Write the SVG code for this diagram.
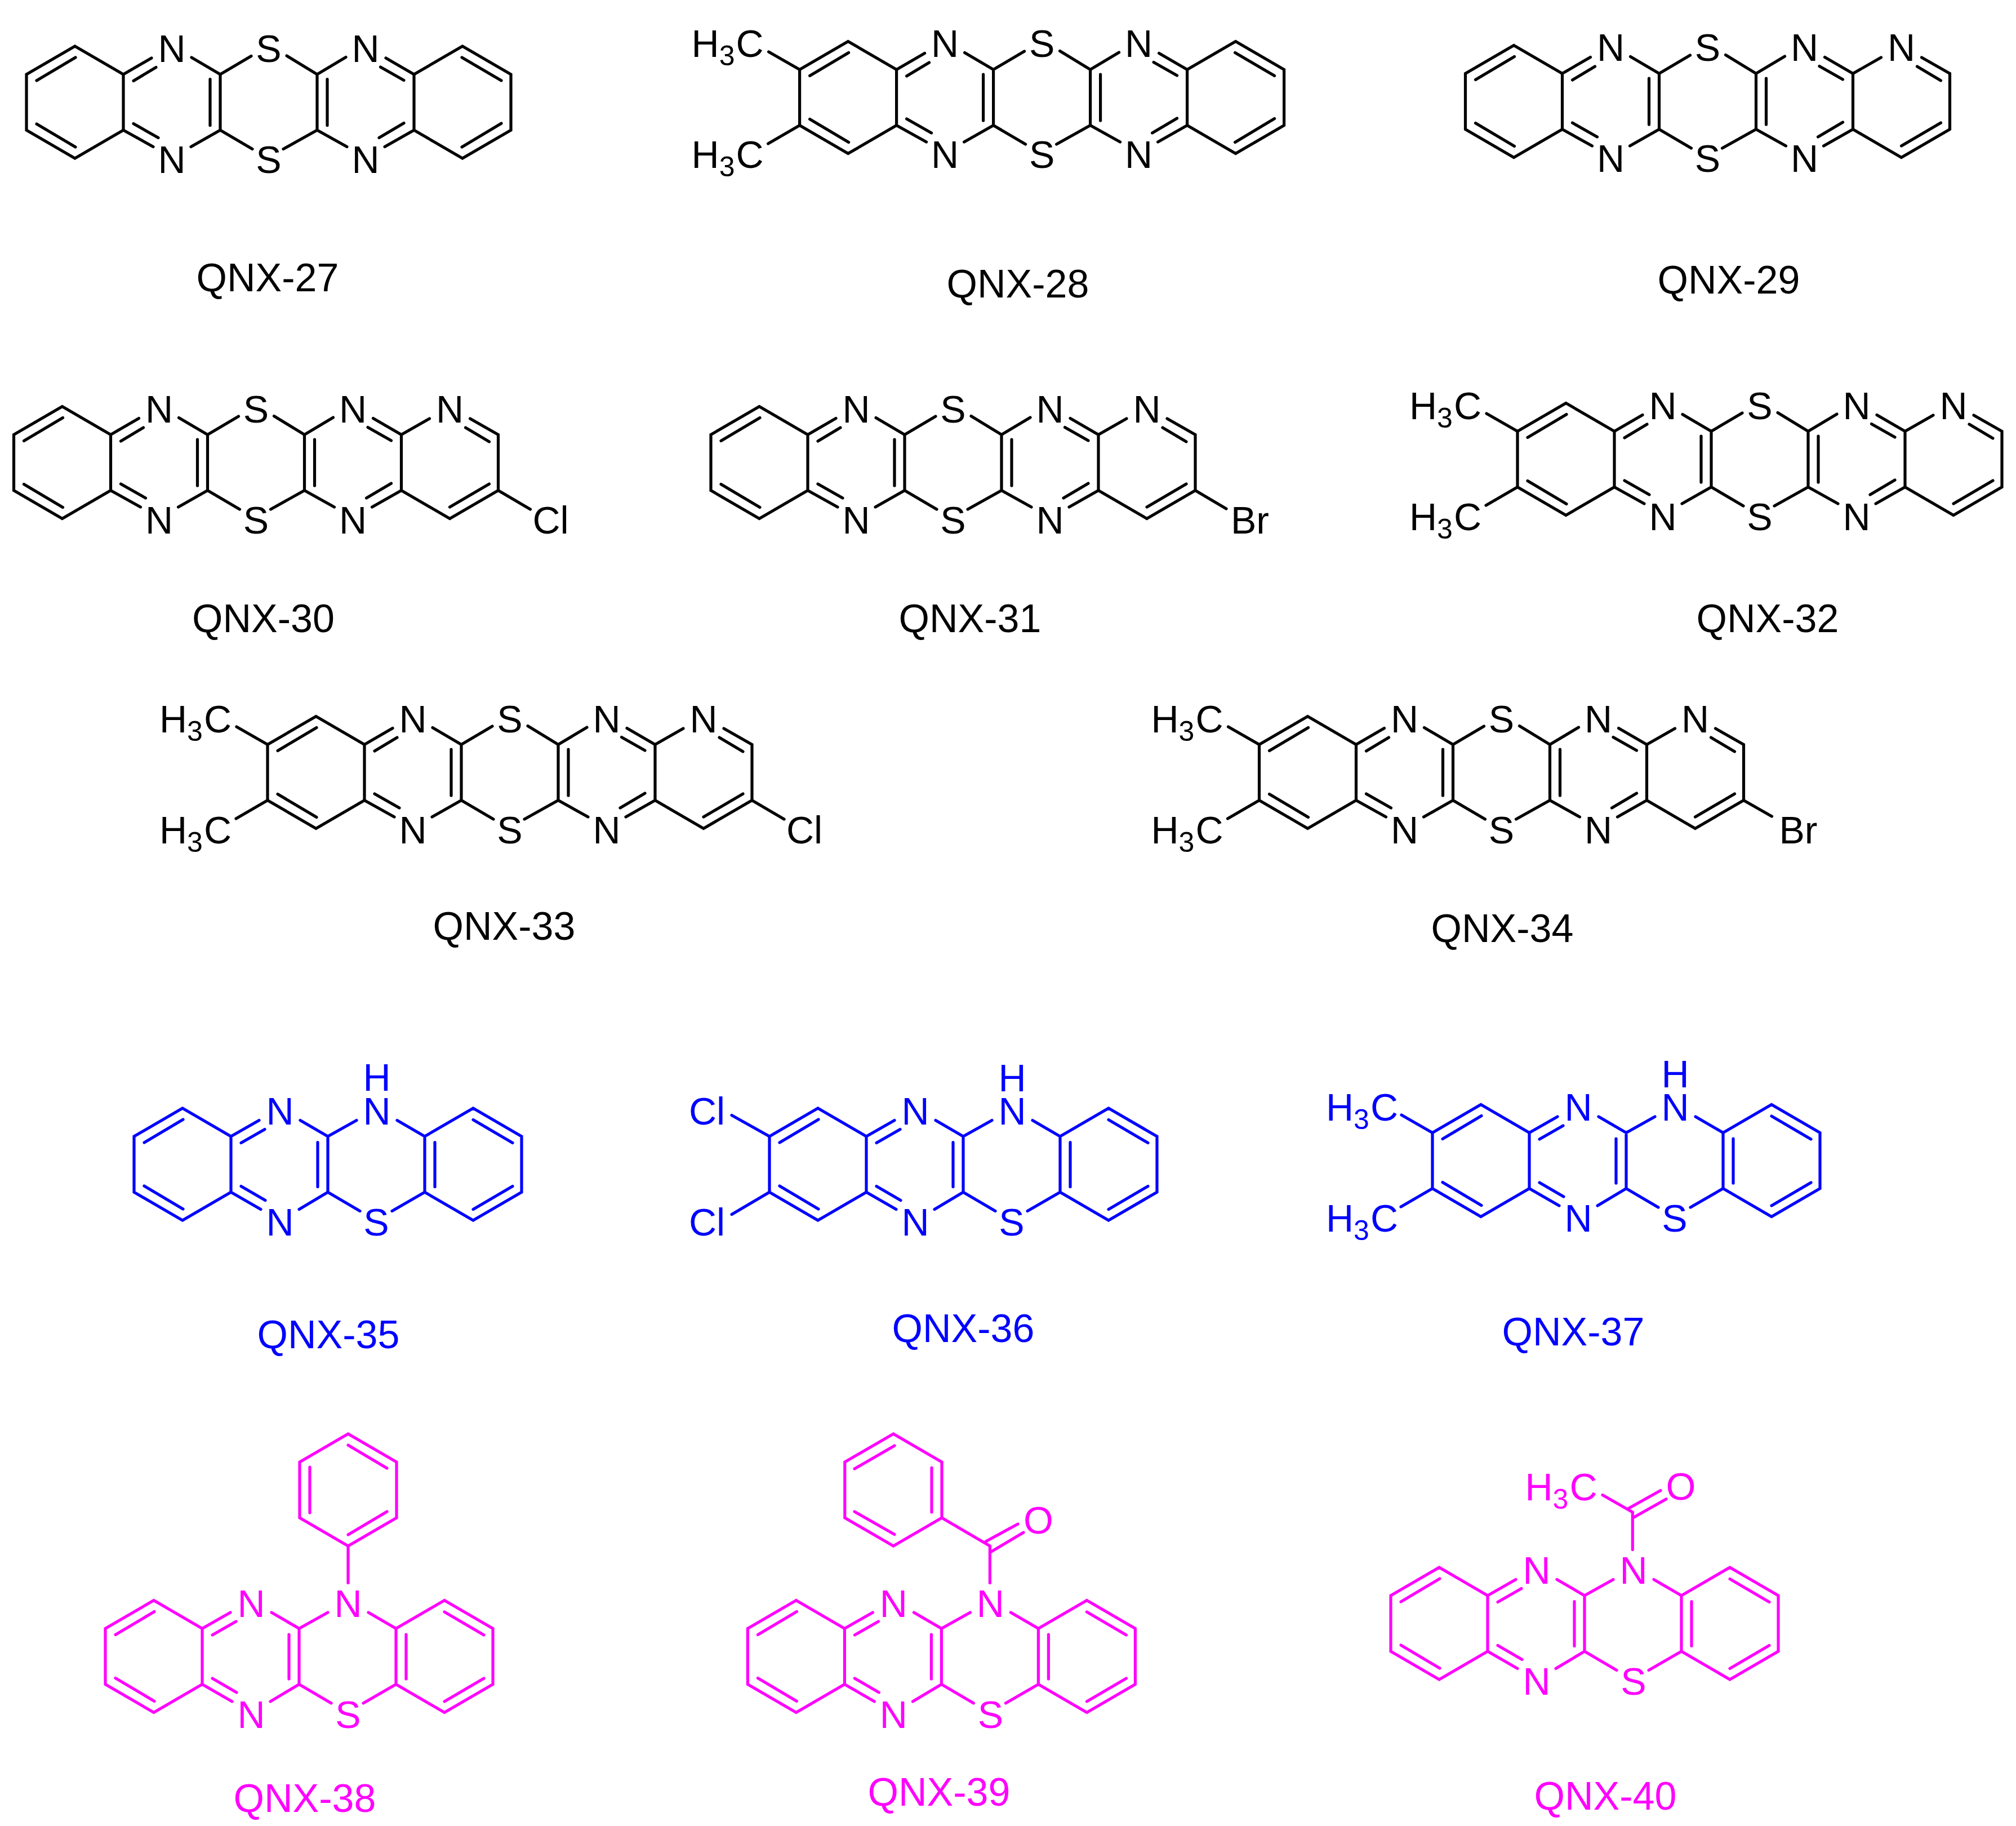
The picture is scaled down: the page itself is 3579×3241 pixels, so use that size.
<svg xmlns="http://www.w3.org/2000/svg" width="3579" height="3241" viewBox="0 0 3579 3241">
<style>
.bond{fill:none;stroke-width:5.2;stroke-linecap:round;stroke-linejoin:miter;stroke-miterlimit:6}
text{font-family:"Liberation Sans",Arial,sans-serif;font-size:68px;stroke:none}
.a{text-anchor:middle}
.name{font-size:70px;text-anchor:middle}
.sub{font-size:50px}
.k{stroke:#000;fill:#000}
.b{stroke:#00f;fill:#00f}
.m{stroke:#f0f;fill:#f0f}
</style>
<defs>
<path id="ringL" class="bond" d="M172,-49.5L86,-99.5L0,-49.5V49.5L86,99.5L172,49.5M18,-38.5L87,-79.5M18,38.5L87,79.5"/>
<path id="ringR" class="bond" d="M688,-49.5L774,-99.5L860,-49.5V49.5L774,99.5L688,49.5M773,-79.5L843,-38.5M773,79.5L843,37.5"/>
<path id="ringPy" class="bond" d="M688,-49.5L738,-78M810,-78L860,-49.5V49.5L774,99.5L688,49.5M802,-62L844,-37M844,38L774,79"/>
<path id="coreT" class="bond" d="M172,-49.5V49.5M172,-49.5L222,-78.5M190,-38L230,-62M172,49.5L225,79M190,38L234,63M293,-79.5L344,-49.5L399,-82M344,-49.5V49.5M326,-41V41M292,79L344,49.5L401,83M462,-82.5L516,-49.5L567,-80M516,-49.5V49.5M534,-41V41M456,83L516,49.5L569,79M638,-78.5L688,-49.5V49.5L636,79M628.5,-62.5L670,-39M626,63L670,37"/>
<path id="coreP" class="bond" d="M172,-49.5V49.5M172,-49.5L222,-78M190,-38L232,-62M172,49.5L225,80M190,39L233,64M295,-78L344,-49.5L395,-78M344,-49.5V49.5M326,-39V40M293,80L344,49.5L401,83M467,-78L516,-49.5L602,-99.5L688,-49.5V49.5L602,99.5L516,49.5L458,83M516,-49.5V49.5M534,-39V40M602,-79L672,-38M602,80L672,39"/>
<path id="diMe" class="bond" d="M0,-49.5L-55,-81M0,49.5L-56,82"/>
<path id="diCl" class="bond" d="M0,-49.5L-67,-87M0,49.5L-67,89"/>
<path id="bondCl" class="bond" d="M860,49.5L917,83"/>
<path id="bondBr" class="bond" d="M860,49.5L915,82"/>
</defs>
<rect width="3579" height="3241" fill="#fff"/>

<g id="QNX-27" class="k">
<g transform="translate(47,181.5)">
<use href="#ringL"/><use href="#coreT"/><use href="#ringR"/>
<text class="a" x="258" y="-72">N</text><text class="a" x="430" y="-72">S</text><text class="a" x="602" y="-72">N</text>
<text class="a" x="258" y="125">N</text><text class="a" x="430" y="125">S</text><text class="a" x="602" y="125">N</text>
</g>
<text class="name" x="475" y="517">QNX-27</text>
</g>

<g id="QNX-28" class="k">
<g transform="translate(1419.6,173)">
<use href="#diMe"/><use href="#ringL"/><use href="#coreT"/><use href="#ringR"/>
<text x="-192" y="-72">H<tspan class="sub" dy="15">3</tspan><tspan dy="-15" dx="2">C</tspan></text>
<text x="-192" y="125">H<tspan class="sub" dy="15">3</tspan><tspan dy="-15" dx="2">C</tspan></text>
<text class="a" x="258" y="-72">N</text><text class="a" x="430" y="-72">S</text><text class="a" x="602" y="-72">N</text>
<text class="a" x="258" y="125">N</text><text class="a" x="430" y="125">S</text><text class="a" x="602" y="125">N</text>
</g>
<text class="name" x="1807" y="528">QNX-28</text>
</g>

<g id="QNX-29" class="k">
<g transform="translate(2601.5,180)">
<use href="#ringL"/><use href="#coreT"/><use href="#ringPy"/>
<text class="a" x="258" y="-72">N</text><text class="a" x="430" y="-72">S</text><text class="a" x="602" y="-72">N</text><text class="a" x="774" y="-72">N</text>
<text class="a" x="258" y="125">N</text><text class="a" x="430" y="125">S</text><text class="a" x="602" y="125">N</text>
</g>
<text class="name" x="3069" y="521">QNX-29</text>
</g>

<g id="QNX-30" class="k">
<g transform="translate(24.5,821)">
<use href="#ringL"/><use href="#coreT"/><use href="#ringPy"/><use href="#bondCl"/>
<text class="a" x="258" y="-71">N</text><text class="a" x="430" y="-71">S</text><text class="a" x="602" y="-71">N</text><text class="a" x="774" y="-71">N</text>
<text class="a" x="258" y="126">N</text><text class="a" x="430" y="126">S</text><text class="a" x="602" y="126">N</text>
<text x="921" y="126">Cl</text>
</g>
<text class="name" x="467.5" y="1122">QNX-30</text>
</g>

<g id="QNX-31" class="k">
<g transform="translate(1262,821)">
<use href="#ringL"/><use href="#coreT"/><use href="#ringPy"/><use href="#bondBr"/>
<text class="a" x="258" y="-71">N</text><text class="a" x="430" y="-71">S</text><text class="a" x="602" y="-71">N</text><text class="a" x="774" y="-71">N</text>
<text class="a" x="258" y="126">N</text><text class="a" x="430" y="126">S</text><text class="a" x="602" y="126">N</text>
<text x="923" y="126">Br</text>
</g>
<text class="name" x="1722" y="1122">QNX-31</text>
</g>

<g id="QNX-32" class="k">
<g transform="translate(2694,815)">
<use href="#diMe"/><use href="#ringL"/><use href="#coreT"/><use href="#ringPy"/>
<text x="-192" y="-71">H<tspan class="sub" dy="15">3</tspan><tspan dy="-15" dx="2">C</tspan></text>
<text x="-192" y="126">H<tspan class="sub" dy="15">3</tspan><tspan dy="-15" dx="2">C</tspan></text>
<text class="a" x="258" y="-71">N</text><text class="a" x="430" y="-71">S</text><text class="a" x="602" y="-71">N</text><text class="a" x="774" y="-71">N</text>
<text class="a" x="258" y="126">N</text><text class="a" x="430" y="126">S</text><text class="a" x="602" y="126">N</text>
</g>
<text class="name" x="3138" y="1122">QNX-32</text>
</g>

<g id="QNX-33" class="k">
<g transform="translate(475,1371)">
<use href="#diMe"/><use href="#ringL"/><use href="#coreT"/><use href="#ringPy"/><use href="#bondCl"/>
<text x="-192" y="-71">H<tspan class="sub" dy="15">3</tspan><tspan dy="-15" dx="2">C</tspan></text>
<text x="-192" y="126">H<tspan class="sub" dy="15">3</tspan><tspan dy="-15" dx="2">C</tspan></text>
<text class="a" x="258" y="-71">N</text><text class="a" x="430" y="-71">S</text><text class="a" x="602" y="-71">N</text><text class="a" x="774" y="-71">N</text>
<text class="a" x="258" y="126">N</text><text class="a" x="430" y="126">S</text><text class="a" x="602" y="126">N</text>
<text x="921" y="126">Cl</text>
</g>
<text class="name" x="895" y="1668">QNX-33</text>
</g>

<g id="QNX-34" class="k">
<g transform="translate(2235.5,1371)">
<use href="#diMe"/><use href="#ringL"/><use href="#coreT"/><use href="#ringPy"/>
<path class="bond" d="M860,49.5L910,78"/>
<text x="-192" y="-71">H<tspan class="sub" dy="15">3</tspan><tspan dy="-15" dx="2">C</tspan></text>
<text x="-192" y="126">H<tspan class="sub" dy="15">3</tspan><tspan dy="-15" dx="2">C</tspan></text>
<text class="a" x="258" y="-71">N</text><text class="a" x="430" y="-71">S</text><text class="a" x="602" y="-71">N</text><text class="a" x="774" y="-71">N</text>
<text class="a" x="258" y="126">N</text><text class="a" x="430" y="126">S</text><text class="a" x="602" y="126">N</text>
<text x="923" y="126">Br</text>
</g>
<text class="name" x="2667" y="1672">QNX-34</text>
</g>

<g id="QNX-35" class="b">
<g transform="translate(238,2066.5)">
<use href="#ringL"/><use href="#coreP"/>
<text class="a" x="431" y="-131">H</text>
<text class="a" x="259" y="-71">N</text><text class="a" x="431" y="-71">N</text>
<text class="a" x="259" y="126">N</text><text class="a" x="430" y="126">S</text>
</g>
<text class="name" x="583" y="2393">QNX-35</text>
</g>

<g id="QNX-36" class="b">
<g transform="translate(1366,2066.5)">
<use href="#diCl"/><use href="#ringL"/><use href="#coreP"/>
<text x="-143" y="-71">Cl</text><text x="-143" y="126">Cl</text>
<text class="a" x="431" y="-130">H</text>
<text class="a" x="259" y="-71">N</text><text class="a" x="431" y="-71">N</text>
<text class="a" x="259" y="126">N</text><text class="a" x="430" y="126">S</text>
</g>
<text class="name" x="1710" y="2381.5">QNX-36</text>
</g>

<g id="QNX-37" class="b">
<g transform="translate(2543,2060)">
<use href="#diMe"/><use href="#ringL"/><use href="#coreP"/>
<text x="-189" y="-71">H<tspan class="sub" dy="15">3</tspan><tspan dy="-15" dx="2">C</tspan></text>
<text x="-189" y="126">H<tspan class="sub" dy="15">3</tspan><tspan dy="-15" dx="2">C</tspan></text>
<text class="a" x="431" y="-130">H</text>
<text class="a" x="259" y="-71">N</text><text class="a" x="431" y="-71">N</text>
<text class="a" x="259" y="126">N</text><text class="a" x="430" y="126">S</text>
</g>
<text class="name" x="2793" y="2388">QNX-37</text>
</g>

<g id="QNX-38" class="m">
<g transform="translate(187,2940)">
<use href="#ringL"/><use href="#coreP"/>
<path class="bond" d="M431,-130.5V-196M431,-395L517,-345V-246L431,-196L345,-246V-345ZM431,-375L500,-334M363,-336V-255M431,-216L500,-257"/>
<text class="a" x="259" y="-70">N</text><text class="a" x="431" y="-70">N</text>
<text class="a" x="259" y="127">N</text><text class="a" x="431" y="127">S</text>
</g>
<text class="name" x="541" y="3216">QNX-38</text>
</g>

<g id="QNX-39" class="m">
<g transform="translate(1327.4,2940)">
<use href="#ringL"/><use href="#coreP"/>
<path class="bond" d="M258.6,-395L344.6,-345V-246L258.6,-196L172.4,-246V-345ZM189.6,-333L260.6,-374M326.6,-335V-256M189.6,-257L260.6,-216.5M344.6,-246L430,-196V-130.5M422.6,-204L479.6,-235M432.6,-186L489.6,-220"/>
<text class="a" x="516" y="-218">O</text>
<text class="a" x="259" y="-70">N</text><text class="a" x="431" y="-70">N</text>
<text class="a" x="259" y="127">N</text><text class="a" x="431" y="127">S</text>
</g>
<text class="name" x="1667" y="3205">QNX-39</text>
</g>

<g id="QNX-40" class="m">
<g transform="translate(2469,2881.5)">
<use href="#ringL"/><use href="#coreP"/>
<path class="bond" d="M376,-228L429.3,-197.5V-131M420,-203L479,-236M430.4,-187.7L489,-220.8"/>
<text x="238.5" y="-218.5">H<tspan class="sub" dy="15">3</tspan><tspan dy="-15" dx="2">C</tspan></text>
<text class="a" x="515" y="-219.5">O</text>
<text class="a" x="259" y="-71">N</text><text class="a" x="431" y="-71">N</text>
<text class="a" x="259" y="126.5">N</text><text class="a" x="431" y="126.5">S</text>
</g>
<text class="name" x="2850" y="3212">QNX-40</text>
</g>
</svg>
